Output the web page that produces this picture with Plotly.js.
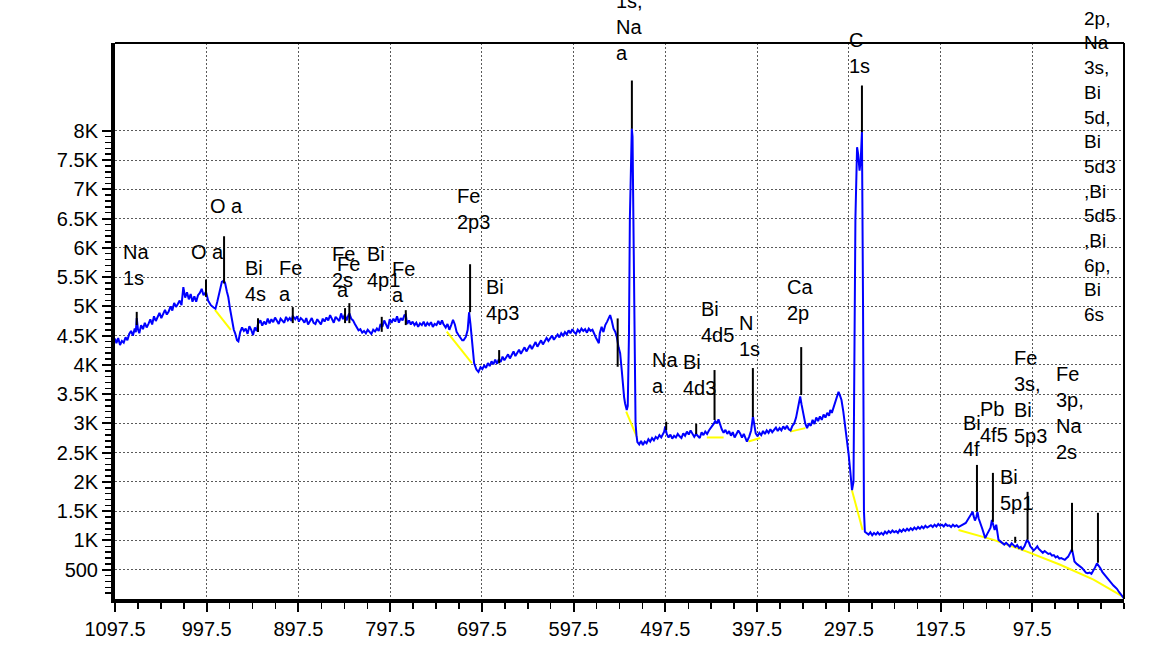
<!DOCTYPE html>
<html><head><meta charset="utf-8">
<script src="https://cdn.plot.ly/plotly-3.0.1.min.js"></script>
<style>html,body{margin:0;padding:0;background:#fff}#chart{width:1152px;height:660px}</style>
</head><body><div id="chart"></div>
<script>
// Binding energy (eV) of the survey spectrum
const energy = [
1097.5,1096,1094,1092,1090,1088,1086,1084,1082,1080,
1078,1076,1074.8,1073.8,1072.5,1071,1069,1067,1065,1063,
1061,1059,1057,1055,1053,1051,1049,1047,1045,1043,
1041,1039,1037,1035,1033,1031,1029,1027,1025,1023,
1021,1019,1017,1015,1013,1011,1009,1007,1005,1003,
1001,998.3,996,993,990,988,986,983,981,979,
977.5,975.5,974,972,970,968,966.5,964.5,963,961,
959,957,955,953,951,949,947,945,943,941.6,
939,937,935,933,931,929,927,925,923,921,
919,917,915,913,911,909,907,905,903.7,901,
899,897,895,893,891,889,887,885,883,881,
879,877,875,873,871,869,867,865,863,861,
859,857,855,853,851,849,847,845,843,842,
840,838,836,834,832,830,828,826,824,822,
820,818,816,814,812,810,808,806,804,802,
800,798,796,794,792,790,788,786,784,782,
780.5,779,777,775,773,771,769,767,765,763,
761,759,757,755,753,751,749,747,745,743,
741,739.5,737,735,733,731,729,727,725,723,
721,719,717.5,715,713,711.5,710,708.5,706,703.5,
701.3,699,697,695,693,691,689,687,685,683,
681,679,677,675,673,671,669,667,665,663,
661,659,657,655,653,651,649,647,645,643,
641,639,637,635,633,631,629,627,625,623,
621,619,617,615,613,611,609,607,605,603,
601,599,597,595,593,591,589,587,585,583,
581,579,577,575,573,571,570,569,567,565,
563,561,559,557.7,556,554,552,550.5,548.5,546.8,
545,544,542.5,541.4,539.6,538.5,537.2,536.2,535,534.1,
533.3,532.3,531,530,529,528,526,524,522,520,
518,516,514,512,510,508,506,504,502,500,
498.8,497.7,496,494,492,490,488,486,484,482,
480,478,476,474,472,470,468,466,464,462,
460,458,456,454,452,450,448,446,444.5,443.2,
441,439.6,438,436,434,432,430,428,426,424,
422,420,418,416,414,412,410,408.6,406,404,
402,400.5,399,397,395,393,391,389,387,385,
383,381,379,377,375,373,371,369,367,365,
363,361,359,357,355,353,351.5,350.5,349,347,
345,343,341,339,337,335,333,331,329,327,
325,323,321,319,317.7,316,314,312.3,310,308.7,
307,305.5,303.5,301.4,299.5,297.8,296,295,294,293,
292.4,290.3,288.5,287.3,285.8,284.5,283.2,282,281,280,
278,276,274,272,270,268,266,264,262,260,
258,256,254,252,250,248,246,244,242,240,
238,236,234,232,230,228,226,224,222,220,
218,216,214,212,210,208,206,204,202,200,
198,196,194,192,190,188,186,184,182,180,
178,176,174,172,170,168,166,164,162.5,161.5,
160,158.5,157.2,156,154,152,150,148.8,147,145,
143,141.5,140,138.5,136.8,135,134.3,132,130,128,
126,124,122,120,118,116,114,112,110,108.7,
106,104.5,103.3,101,99.7,98,96,94,92,90.6,
88.5,86,84,82,80,78,76,74,72,70,
68,66,64,62,60,58.5,56.5,55,54.2,53,
51.5,49,47,45,43.3,41,39,37,35,33,
31,29,27,25.5,23.4,21,19,17,15,13,
11,9,7,5,3,1,-1.3,-2.5];
// Counts per second
const counts = [
4450,4370,4460,4340,4410,4380,4470,4420,4530,4580,
4500,4620,4560,4800,4610,4540,4680,4610,4720,4640,
4700,4780,4690,4830,4750,4810,4890,4800,4870,4940,
4860,4910,5000,4930,5060,4990,5040,5100,5020,5330,
5150,5240,5120,5210,5080,5170,5080,5190,5230,5300,
5190,5250,5100,5020,4980,4960,5080,5300,5420,5440,
5400,5250,5160,4950,4770,4600,4540,4420,4400,4560,
4640,4580,4620,4530,4660,4600,4510,4640,4580,4700,
4760,4670,4740,4690,4790,4710,4780,4730,4810,4740,
4700,4790,4760,4720,4820,4760,4800,4750,4840,4780,
4830,4740,4800,4770,4720,4800,4690,4760,4800,4720,
4700,4780,4740,4690,4790,4740,4810,4760,4850,4770,
4720,4820,4790,4750,4880,4780,4860,4760,4850,4880,
4790,4760,4700,4640,4590,4610,4550,4580,4540,4600,
4560,4530,4600,4570,4620,4580,4700,4650,4760,4690,
4620,4780,4720,4790,4740,4830,4720,4800,4760,4850,
4860,4700,4760,4690,4740,4680,4720,4650,4710,4680,
4740,4660,4720,4680,4730,4650,4700,4680,4750,4690,
4760,4700,4640,4700,4600,4680,4770,4690,4560,4510,
4470,4420,4420,4480,4600,4900,4700,4420,4030,3920,
3880,3960,3930,3990,3950,4030,3980,4060,4010,4090,
4020,4100,4050,4140,4080,4130,4180,4110,4170,4230,
4150,4210,4260,4190,4240,4300,4230,4290,4340,4270,
4320,4390,4310,4360,4420,4350,4400,4460,4410,4450,
4500,4430,4480,4520,4470,4540,4500,4560,4520,4590,
4540,4610,4560,4530,4600,4560,4620,4580,4610,4550,
4620,4580,4600,4520,4460,4400,4370,4540,4650,4560,
4680,4740,4800,4850,4760,4620,4560,4480,4300,4200,
3900,3680,3450,3340,3230,3300,4500,6500,7800,8040,
7900,6200,4200,3000,2800,2680,2640,2700,2630,2690,
2660,2730,2690,2750,2710,2770,2740,2800,2760,2820,
2860,2950,2820,2760,2810,2740,2790,2760,2820,2780,
2750,2830,2790,2860,2810,2880,2830,2770,2820,2780,
2750,2850,2800,2860,2820,2880,2920,2960,3000,3040,
3000,3070,2980,2900,2840,2890,2820,2870,2790,2850,
2760,2820,2880,2830,2760,2820,2740,2690,2780,2880,
3120,2960,2830,2780,2840,2800,2870,2820,2880,2840,
2900,2850,2890,2930,2870,2920,2880,2950,2900,2960,
2900,2880,2960,3000,3100,3250,3400,3460,3320,3150,
3000,2920,3000,2960,3060,2990,3100,3040,3120,3060,
3150,3100,3180,3130,3230,3180,3280,3340,3450,3540,
3470,3400,3200,2950,2700,2490,2200,2040,1860,1950,
2000,6500,7720,7600,7320,7500,7980,5000,1500,1150,
1120,1100,1140,1090,1130,1100,1140,1100,1130,1100,
1150,1120,1160,1130,1170,1140,1160,1130,1180,1150,
1190,1160,1200,1170,1210,1180,1220,1190,1230,1200,
1240,1210,1250,1220,1240,1260,1230,1270,1240,1280,
1250,1270,1240,1280,1250,1260,1230,1270,1240,1260,
1230,1250,1260,1280,1300,1350,1400,1440,1490,1420,
1340,1400,1490,1380,1270,1200,1100,1040,1100,1150,
1220,1350,1240,1180,1270,1120,1010,980,950,930,
960,920,900,950,910,890,920,870,890,840,
900,980,1010,960,900,870,830,860,900,860,
830,790,820,790,770,780,740,750,710,730,
690,700,680,670,700,720,780,820,850,760,
640,600,580,560,530,490,450,440,450,430,
480,540,610,580,530,460,420,380,330,290,
260,230,200,170,120,80,40,10];
// Background (yellow) segments, null separates segments
const bgEnergy = [988.5,971.3,null,735.8,708.5,null,540.2,528.6,null,452.3,434,null,406.9,394.1,null,361.4,345,null,294.1,282.5,null,177.9,139.7,103.3,67,30.7,-1.3];
const bgCounts = [4940,4600,null,4570,4030,null,3200,2770,null,2760,2760,null,2690,2750,null,2860,2920,null,1860,1180,null,1180,1010,810,585,330,40];
// Peak identification markers
const peakLabels = ["Na<br>1s","O a","O a","Bi<br>4s","Fe<br>a","Fe<br>2s","Fe<br>a","Bi<br>4p1","Fe<br>a","Fe<br>2p3","Bi<br>4p3","","O<br>1s,<br>Na<br>a","Na<br>a","Bi<br>4d3","Bi<br>4d5","N<br>1s","Ca<br>2p","C<br>1s","Bi<br>4f","Pb<br>4f5","Fe<br>3s,<br>Bi<br>5p3","Bi<br>5p1","Fe<br>3p,<br>Na<br>2s","Na<br>2p,<br>Na<br>3s,<br>Bi<br>5d,<br>Bi<br>5d3<br>,Bi<br>5d5<br>,Bi<br>6p,<br>Bi<br>6s"];
const peakEnergy = [1073.8,998.3,978.6,941.6,903.7,846.7,842,806.7,780.5,710.4,678.7,549.5,534,496.6,463.9,443.9,402.1,349.4,283.2,157.8,140.4,102.6,116.1,54.2,25.9];
const peakTop = [4906,5459,6198,4799,4987,4970,5055,4821,4935,5720,4253,4794,8859,3030,2991,3912,3946,4304,8774,2291,2155,1831,1063,1643,1473];
const peakBottom = [4680,5162,5391,4560,4714,4714,4714,4565,4680,4901,4026,3968,8035,2888,2820,3059,3110,3485,7977,1494,1319,1012,960,807,620];
const labelEnergy = [1074.3,996.6,975.7,944.5,906.7,848.9,843.4,804.9,782.7,706.8,674.9,null,536.2,497.9,460.4,440.5,406.1,350.5,286.2,163.7,139.7,99.1,114.9,56.6,23.4];
const labelCounts = [5712,5934,6718,5430,5439,5674,5498,5678,5413,6659,5106,null,9997,3861,3827,4739,4492,5106,9328,2786,3025,3451,1865,3178,7605];
// Axis ticks
const xTickVals = [1097.5,997.5,897.5,797.5,697.5,597.5,497.5,397.5,297.5,197.5,97.5];
const xTickText = ["1097.5","997.5","897.5","797.5","697.5","597.5","497.5","397.5","297.5","197.5","97.5"];
const yTickVals = [500,1000,1500,2000,2500,3000,3500,4000,4500,5000,5500,6000,6500,7000,7500,8000];
const yTickText = ["500","1K","1.5K","2K","2.5K","3K","3.5K","4K","4.5K","5K","5.5K","6K","6.5K","7K","7.5K","8K"];

const FONT = "Liberation Sans, Arial, sans-serif";
const Y_MAX = 9500, PLOT_H = 660 - 43 - 61;
const xMinor = []; for (let v = 1097.5; v >= -2.5; v -= 25) xMinor.push(v);
const yMinor = []; for (let v = 100; v <= 8000; v += 100) yMinor.push(v);

const lx = [], ly = [];
peakEnergy.forEach((e, i) => { lx.push(e, e, null); ly.push(peakBottom[i], peakTop[i], null); });

const traces = [
  {x: bgEnergy, y: bgCounts, mode: 'lines', line: {color: '#ffff00', width: 2}, hoverinfo: 'skip', connectgaps: false},
  {x: energy, y: counts, mode: 'lines', line: {color: '#0000ff', width: 2}},
  {x: lx, y: ly, mode: 'lines', line: {color: '#000000', width: 2}, connectgaps: false, cliponaxis: false}
];

const annotations = [];
peakLabels.forEach((t, i) => {
  if (!t) return;
  const yv = labelCounts[i];
  const clamped = Math.min(yv, Y_MAX);
  annotations.push({x: labelEnergy[i], y: clamped, xref: 'x', yref: 'y', text: t, showarrow: false,
    yshift: (yv - clamped) * PLOT_H / Y_MAX,
    xanchor: 'center', yanchor: 'middle', align: 'left',
    font: {family: FONT, size: (i === peakLabels.length - 1) ? 19 : 20, color: '#000'}});
});

const gridStyle = {showgrid: true, gridcolor: '#5a5a5a', griddash: '1.5px,2.5px', gridwidth: 1};

const layout = {
  width: 1152, height: 660,
  margin: {l: 115, r: 28, t: 43, b: 61},
  paper_bgcolor: '#fff', plot_bgcolor: '#fff',
  showlegend: false,
  font: {family: FONT, size: 20, color: '#000'},
  xaxis: Object.assign({range: [1097.5, -2.5], tickmode: 'array', tickvals: xTickVals, ticktext: xTickText,
    ticks: 'outside', ticklen: 9, tickwidth: 2, tickcolor: '#000',
    showline: true, linewidth: 4, linecolor: '#000', zeroline: false,
    tickfont: {family: FONT, size: 20, color: '#000'},
    minor: {tickmode: 'array', tickvals: xMinor, ticks: 'outside', ticklen: 6, tickwidth: 1.5, tickcolor: '#000', showgrid: false}}, gridStyle),
  yaxis: Object.assign({range: [0, Y_MAX], tickmode: 'array', tickvals: yTickVals, ticktext: yTickText,
    ticks: 'outside', ticklen: 9, tickwidth: 2, tickcolor: '#000',
    showline: true, linewidth: 4, linecolor: '#000', zeroline: false,
    tickfont: {family: FONT, size: 20, color: '#000'},
    minor: {tickmode: 'array', tickvals: yMinor, ticks: 'outside', ticklen: 6, tickwidth: 1.5, tickcolor: '#000', showgrid: false}}, gridStyle),
  shapes: [
    {type: 'line', xref: 'paper', yref: 'paper', x0: 0, x1: 1, y0: 1, y1: 1, line: {color: '#000', width: 2}},
    {type: 'line', xref: 'paper', yref: 'paper', x0: 1, x1: 1, y0: 0, y1: 1, line: {color: '#000', width: 2}}
  ],
  annotations: annotations
};

Plotly.newPlot('chart', traces, layout, {displayModeBar: false, staticPlot: true});
</script></body></html>
